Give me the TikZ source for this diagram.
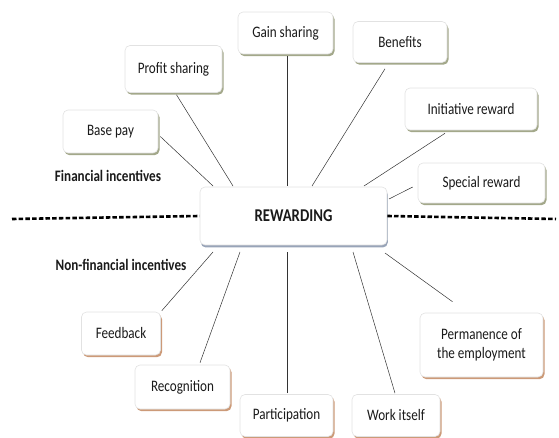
\documentclass[tikz,border=0pt]{standalone}
\usepackage{fontspec}
\setmainfont{Carlito}[FakeStretch=0.82]
\usetikzlibrary{shadows}
\definecolor{fshadow}{HTML}{A3A88A}
\definecolor{nshadow}{HTML}{CC9A78}
\definecolor{rshadow}{HTML}{98A4B8}
\definecolor{boxline}{HTML}{E2E2E2}
\definecolor{txt}{HTML}{1A1A1A}
\begin{document}
\begin{tikzpicture}[x={(1pt,0)},y={(0,-1pt)},
  base/.style={draw=boxline, line width=0.6pt, fill=white, rounded corners=5pt, align=center,
    font=\fontsize{16}{19}\selectfont, text=txt, inner sep=2pt},
  fbox/.style={base, drop shadow={shadow xshift=1.5pt, shadow yshift=-2.2pt, fill=fshadow, opacity=1}},
  nbox/.style={base, drop shadow={shadow xshift=1.5pt, shadow yshift=-2.2pt, fill=nshadow, opacity=1}},
  rbox/.style={base, font=\bfseries\fontsize{18}{20}\selectfont, drop shadow={shadow xshift=0.8pt, shadow yshift=-2.5pt, fill=rshadow, opacity=1}},
  conn/.style={line width=0.5pt, draw=black!80},
  sep/.style={line width=2.6pt, dash pattern=on 4.5pt off 2.2pt},
  lbl/.style={font=\bfseries\fontsize{16}{18}\selectfont, text=txt, inner sep=0pt}]
\useasboundingbox (0,0) rectangle (559,438);
% nodes
\node[rbox, minimum width=187, minimum height=58] (rew) at (293.5,216) {REWARDING};
\node[fbox, minimum width=95, minimum height=42] (gain) at (285.5,33) {Gain sharing};
\node[fbox, minimum width=94, minimum height=41] (ben) at (400,42) {Benefits};
\node[fbox, minimum width=132, minimum height=42] (init) at (471,109) {Initiative reward};
\node[fbox, minimum width=127, minimum height=40] (spec) at (481.5,183) {Special reward};
\node[fbox, minimum width=97, minimum height=47] (prof) at (173.5,69) {Profit sharing};
\node[fbox, minimum width=95, minimum height=43] (bpay) at (110.5,131.5) {Base pay};
\node[nbox, minimum width=79, minimum height=43] (feed) at (121,333.5) {Feedback};
\node[nbox, minimum width=95, minimum height=44] (reco) at (182.5,387) {Recognition};
\node[nbox, minimum width=93, minimum height=42] (part) at (286.5,415.5) {Participation};
\node[nbox, minimum width=88, minimum height=42] (work) at (396,415.5) {Work itself};
\node[nbox, minimum width=123, minimum height=64] (perm) at (481.5,345) {Permanence of\\the employment};
\node[lbl] (fin) at (108,176) {Financial incentives};
\node[lbl] (nfin) at (121,265) {Non-financial incentives};
% connector end points on the REWARDING box
\coordinate (r1) at (213,186);
\coordinate (r2) at (233,186);
\coordinate (r3) at (287,186);
\coordinate (r4) at (312,186);
\coordinate (r5) at (364,186);
\coordinate (r6) at (389,199);
\coordinate (s1) at (213,252);
\coordinate (s2) at (240,252);
\coordinate (s3) at (287,252);
\coordinate (s4) at (353,252);
\coordinate (s5) at (385,253);
% separator
\coordinate (dl) at (12,219);
\coordinate (dr) at (556,219);
\draw[sep] (dl) -- (rew.west);
\draw[sep] (rew.east) -- (dr);
% connectors
\draw[conn] (bpay.east) ++(2,5) -- (r1);
\draw[conn] (prof.south) ++(3,2) -- (r2);
\draw[conn] (gain.south) ++(1.5,2) -- (r3);
\draw[conn] (ben.south) ++(-15,6) -- (r4);
\draw[conn] (init.south) ++(-26,3) -- (r5);
\draw[conn] (spec.west) ++(-5,4) -- (r6);
\draw[conn] (feed.north east) ++(1,-1) -- (s1);
\draw[conn] (reco.north) ++(17.5,-2) -- (s2);
\draw[conn] (part.north) ++(0.5,-1) -- (s3);
\draw[conn] (work.north) ++(-1,-1) -- (s4);
\draw[conn] (perm.north) ++(-29,-11) -- (s5);
\end{tikzpicture}
\end{document}
